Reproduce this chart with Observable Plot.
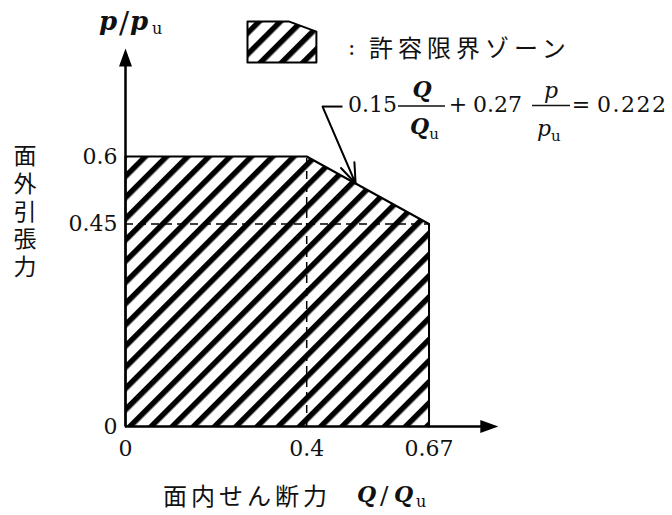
<!DOCTYPE html>
<html><head><meta charset="utf-8">
<script src="https://cdn.jsdelivr.net/npm/d3@7"></script>
<script src="https://cdn.jsdelivr.net/npm/@observablehq/plot@0.6"></script>
<style>
html,body{margin:0;padding:0;background:#fff;}
#chart svg{display:block;}
</style></head><body><div id="chart"></div>
<script>
// ---- data ----
const zoneQ = [0, 0, 0.4, 0.67, 0.67];      // Q/Qu of the permissible-zone outline
const zoneP = [0, 0.6, 0.6, 0.45, 0];       // p/pu of the permissible-zone outline
const xTickValues = [0, 0.4, 0.67];
const xTickLabels = ["0", "0.4", "0.67"];
const yTickValues = [0, 0.45, 0.6];
const yTickLabels = ["0", "0.45", "0.6"];
const xAxisMax = 0.823;
const yAxisMax = 0.84;
const yLabel = "面外引張力";
const xLabel = "面内せん断力";
const legendLabel = "許容限界ゾーン";
const eqCoefQ = "0.15", eqCoefP = "0.27", eqRhs = "0.222";
const leaderStart = [0.479, 0.711];   // equation leader (annotation)
const leaderBend = [0.435, 0.711];
const leaderT = 0.4;                  // position along the sloped edge

const zone = zoneQ.map((q, i) => ({q, p: zoneP[i]}));
const swatchBox = {q0: 0.2693, p0: 0.809, sq: 0.227, sp: 0.152};
const swatch = [...zone, zone[0]].map(d => ({q: swatchBox.q0 + d.q * swatchBox.sq, p: swatchBox.p0 + d.p * swatchBox.sp}));
const tip = {q: zone[2].q + leaderT * (zone[3].q - zone[2].q), p: zone[2].p + leaderT * (zone[3].p - zone[2].p)};

const arrowHead = {draw(ctx) { ctx.moveTo(0, 0); ctx.lineTo(-6.5, 18); ctx.lineTo(6.5, 18); ctx.closePath(); }};
const serif = "DejaVu Serif";
const cjk = "'Noto Sans CJK JP', 'Noto Sans CJK SC', sans-serif";

const svg = Plot.plot({
  width: 672, height: 515,
  x: {domain: [0, 1], range: [125, 578], axis: null},
  y: {domain: [0, 1], range: [426, -24], axis: null},
  style: {background: "white", overflow: "visible", color: "black"},
  marks: [
    Plot.line(zone, {x: "q", y: "p", fill: "url(#hatch)", stroke: "black", strokeWidth: 2}),
    Plot.line(swatch, {x: "q", y: "p", fill: "url(#hatch)", stroke: "black", strokeWidth: 2}),
    Plot.ruleY([zoneP[3]], {x1: 0, x2: zoneQ[3], stroke: "black", strokeWidth: 1.5, strokeDasharray: "8,5"}),
    Plot.ruleX([zoneQ[2]], {y1: 0, y2: zoneP[2], stroke: "black", strokeWidth: 1.5, strokeDasharray: "8,5"}),
    Plot.ruleX([0], {y1: 0, y2: yAxisMax - 0.02, stroke: "black", strokeWidth: 2.5}),
    Plot.ruleY([0], {x1: 0, x2: xAxisMax - 0.02, stroke: "black", strokeWidth: 2.5}),
    Plot.dot([{q: 0, p: yAxisMax}], {x: "q", y: "p", symbol: arrowHead, fill: "black", stroke: "none", r: 5}),
    Plot.dot([{q: xAxisMax, p: 0}], {x: "q", y: "p", symbol: arrowHead, fill: "black", stroke: "none", r: 5, rotate: 90}),
    Plot.link([{x1: leaderStart[0], y1: leaderStart[1], x2: leaderBend[0], y2: leaderBend[1]}], {x1: "x1", y1: "y1", x2: "x2", y2: "y2", stroke: "black", strokeWidth: 2}),
    Plot.arrow([{x1: leaderBend[0], y1: leaderBend[1], x2: tip.q, y2: tip.p}], {x1: "x1", y1: "y1", x2: "x2", y2: "y2", stroke: "black", strokeWidth: 2, headLength: 16, headAngle: 40}),
    Plot.text(xTickValues, {x: d => d, y: 0, text: (d, i) => xTickLabels[i], dy: 22, fontFamily: serif, fontSize: 22, fill: "#111"}),
    Plot.text(yTickValues, {x: 0, y: d => d, text: (d, i) => yTickLabels[i], dx: -8, textAnchor: "end", fontFamily: serif, fontSize: 22, fill: "#111"})
  ]
});

// hatch pattern
const defs = d3.select(svg).insert("defs", ":first-child");
const pat = defs.append("pattern").attr("id", "hatch").attr("patternUnits", "userSpaceOnUse")
  .attr("width", 15).attr("height", 15).attr("patternTransform", "rotate(45)");
pat.append("rect").attr("width", 15).attr("height", 15).attr("fill", "white");
pat.append("rect").attr("x", 0).attr("y", 0).attr("width", 5.5).attr("height", 15).attr("fill", "black");

// annotation text
const ann = d3.select(svg).append("g").attr("fill", "#111").attr("text-anchor", "start");
const BI = {"font-weight": "bold", "font-style": "italic"};
const IT = {"font-style": "italic"};
function addText(x, y, spans, attrs = {}) {
  const t = ann.append("text").attr("x", x).attr("y", y).attr("text-anchor", "start");
  for (const [k, v] of Object.entries(attrs)) t.attr(k, v);
  for (const s of spans) {
    const ts = t.append("tspan").text(s.t);
    for (const [k, v] of Object.entries(s)) if (k !== "t") ts.attr(k, v);
  }
  return t;
}
function bar(x1, x2, y) {
  ann.append("line").attr("x1", x1).attr("x2", x2).attr("y1", y).attr("y2", y).attr("stroke", "#111").attr("stroke-width", 1.5);
}
const S = {"font-family": serif, "font-size": 22};

// y-axis top label p/pu
addText(99, 30, [
  {t: "p", ...BI},
  {t: "/", x: 119, "font-size": 30, y: 33, "font-weight": "normal"},
  {t: "p", ...BI, x: 130, y: 30},
  {t: "u", "font-size": 16, x: 152, y: 34}
], {...S, "font-size": 26});
// x label
addText(163, 505, [{t: xLabel}], {"font-family": cjk, "font-size": 24, "letter-spacing": 4});
addText(357, 502, [
  {t: "Q", ...BI},
  {t: "/", x: 380, "font-size": 25, y: 504},
  {t: "Q", ...BI, x: 394, y: 502},
  {t: "u", "font-size": 16, x: 416, y: 507}
], S);
// y label (vertical)
addText(25, 144, [{t: yLabel}], {"font-family": cjk, "font-size": 23, "letter-spacing": 4.7,
  "writing-mode": "vertical-rl", "text-orientation": "upright", style: "writing-mode: vertical-rl; text-orientation: upright;"});
// legend
addText(348, 55, [{t: ":"}], S);
addText(369, 56.5, [{t: legendLabel}], {"font-family": cjk, "font-size": 24, "letter-spacing": 5});
// equation
addText(348, 112, [{t: eqCoefQ}], S);
bar(398, 445, 106);
addText(422, 97, [{t: "Q", ...BI}], {...S, "text-anchor": "middle"});
addText(410, 134, [{t: "Q", ...BI}, {t: "u", "font-size": 15, dy: 5}], S);
addText(458, 112, [{t: "+"}], {...S, "text-anchor": "middle"});
addText(473, 112, [{t: eqCoefP}], S);
bar(532, 570, 105.5);
addText(551, 98, [{t: "p", ...IT}], {...S, "text-anchor": "middle"});
addText(537, 136, [{t: "p", ...IT}, {t: "u", "font-size": 15, dy: 5}], S);
addText(581, 112, [{t: "="}], {...S, "text-anchor": "middle"});
addText(597, 112, [{t: eqRhs}], {...S, "letter-spacing": 1.5});

document.getElementById("chart").appendChild(svg);
</script></body></html>
